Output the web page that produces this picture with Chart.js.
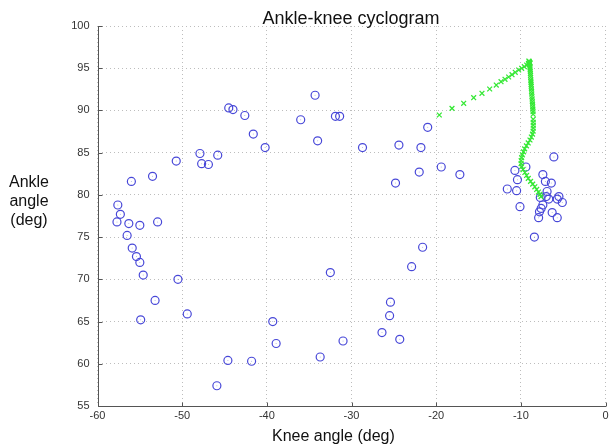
<!DOCTYPE html>
<html>
<head>
<meta charset="utf-8">
<script src="https://cdn.jsdelivr.net/npm/chart.js@4"></script>
<style>
  body { margin: 0; background: #fff; }
  #wrap { position: relative; width: 615px; height: 448px; font-family: "Liberation Sans", Arial, sans-serif; color: #111; }
  .lbl { position: absolute; white-space: nowrap; }
  #title { left: 351px; top: 8px; font-size: 18px; transform: translateX(-50%); }
  #xlab { left: 272px; top: 427px; font-size: 16px; }
  #ylab { left: 0; width: 58px; top: 172px; font-size: 16px; line-height: 19px; text-align: center; }
</style>
</head>
<body>
<div id="wrap">
  <canvas id="c" width="615" height="448"></canvas>
  <div class="lbl" id="title">Ankle-knee cyclogram</div>
  <div class="lbl" id="xlab">Knee angle (deg)</div>
  <div class="lbl" id="ylab">Ankle<br>angle<br>(deg)</div>
</div>
<script>
// blue circles: knee / ankle angle samples
const kneeObs = [-56.0,-53.5,-57.6,-57.3,-57.7,-56.3,-55.0,-52.9,-56.5,-55.9,-55.4,-55.0,-54.6,-50.5,-53.2,-49.4,-54.9,-44.6,-41.8,-45.9,
  -50.7,-47.9,-47.7,-46.9,-45.8,-44.5,-44.0,-42.6,-41.6,-40.2,-36.0,-34.3,-34.0,
  -31.9,-31.4,-28.7,-24.4,-21.8,-21.0,-22.0,-24.8,-19.4,-17.2,
  -21.6,-22.9,-32.5,-25.4,-25.5,-26.4,-24.3,-39.3,-38.9,-31.0,-33.7,
  -10.7,-9.4,-6.1,-10.4,-11.6,-10.5,-7.4,-7.1,-6.4,-6.9,-7.0,-7.7,-6.7,-5.5,-5.7,-5.1,-7.4,-7.6,-7.8,-7.9,-6.3,-5.7,-10.1,-8.4];
const ankleObs = [81.6,82.2,78.8,77.7,76.8,76.6,76.4,76.8,75.2,73.7,72.7,72.0,70.5,70.0,67.5,65.9,65.2,60.4,60.3,57.4,
  84.0,84.9,83.7,83.6,84.7,90.3,90.1,89.4,87.2,85.6,88.9,91.8,86.4,
  89.3,89.3,85.6,85.9,85.6,88.0,82.7,81.4,83.3,82.4,
  73.8,71.5,70.8,67.3,65.7,63.7,62.9,65.0,62.4,62.7,60.8,
  82.9,83.3,84.5,81.8,80.7,80.5,82.4,81.6,81.4,80.4,79.8,79.7,79.5,79.8,79.5,79.1,78.8,78.4,78.0,77.3,77.9,77.3,78.6,75.0];

// green crosses: mean trajectory
const kneeTrack = [-19.63,-18.13,-16.75,-15.57,-14.59,-13.68,-12.90,-12.34,-11.87,-11.44,-11.04,-10.66,-10.25,-9.90,-9.59,-9.31,-9.07,-9.00,
  -9.05,-8.95,-9.10,-8.90,-8.98,-8.93,-8.90,-8.88,-8.87,-8.85,-8.84,-8.82,-8.80,-8.79,-8.77,-8.75,-8.73,-8.71,-8.69,-8.66,-8.64,-8.62,-8.60,-8.58,-8.56,-8.55,
  -8.54,-8.53,-8.53,-8.53,-8.55,-8.62,-8.76,-8.92,-9.13,-9.34,-9.55,-9.68,-9.82,-9.90,-9.96,-9.97,-9.90,-9.74,-9.52,-9.32,-9.12,-8.85,-8.60,-8.35,-8.13,-7.92,-7.74,-7.62];
const ankleTrack = [89.46,90.25,90.85,91.51,92.03,92.54,93.01,93.40,93.69,93.96,94.23,94.52,94.79,94.99,95.18,95.38,95.58,95.77,
  95.85,95.70,95.55,95.60,95.40,95.15,94.90,94.65,94.40,94.15,93.90,93.60,93.35,93.10,92.85,92.55,92.25,91.95,91.65,91.35,91.05,90.75,90.45,90.15,89.85,89.55,
  88.95,88.60,88.25,87.90,87.55,87.20,86.85,86.50,86.15,85.80,85.45,85.10,84.75,84.40,84.05,83.70,83.35,83.00,82.65,82.30,81.95,81.60,81.28,80.96,80.64,80.34,80.06,79.80];

const xTicks = [-60,-50,-40,-30,-20,-10,0];
const yTicks = [55,60,65,70,75,80,85,90,95,100];

const obsPts = kneeObs.map((k, i) => ({x: k, y: ankleObs[i]}));
const trackPts = kneeTrack.map((k, i) => ({x: k, y: ankleTrack[i]}));

// inward tick marks + solid left/bottom axis lines like the matlab axes
const innerTicks = {
  id: 'innerTicks',
  afterDraw(chart) {
    const {ctx, chartArea: a, scales: {x, y}} = chart;
    ctx.save();
    ctx.strokeStyle = '#555';
    ctx.lineWidth = 1;
    ctx.setLineDash([]);
    ctx.beginPath();
    const l = Math.round(a.left) + 0.5, b = Math.round(a.bottom) + 0.5;
    ctx.moveTo(l, Math.round(a.top)); ctx.lineTo(l, b);
    ctx.lineTo(Math.round(a.right), b);
    xTicks.forEach(v => {
      const px = Math.round(x.getPixelForValue(v)) + 0.5;
      ctx.moveTo(px, b); ctx.lineTo(px, b - 4);
    });
    yTicks.forEach(v => {
      const py = Math.round(y.getPixelForValue(v)) + 0.5;
      ctx.moveTo(l, py); ctx.lineTo(l + 4, py);
    });
    ctx.stroke();
    ctx.restore();
  }
};

const tickFont = {family: 'Liberation Sans', size: 11};

new Chart(document.getElementById('c'), {
  type: 'scatter',
  data: {
    datasets: [
      { label: 'track', data: trackPts, pointStyle: 'crossRot', radius: 3.4, borderColor: '#35e835', borderWidth: 1.3, order: 0 },
      { label: 'obs', data: obsPts, pointStyle: 'circle', radius: 4, backgroundColor: 'rgba(0,0,0,0)', borderColor: '#4848d8', borderWidth: 1.2, order: 1 },
      { label: 'obsCentre', data: obsPts, pointStyle: 'circle', radius: 0.5, backgroundColor: 'rgba(90,90,210,0.5)', borderWidth: 0, order: 2 }
    ]
  },
  options: {
    responsive: false,
    animation: false,
    layout: { padding: { left: 0, right: 9.5, top: 26, bottom: 0 } },
    plugins: { legend: { display: false }, tooltip: { enabled: false } },
    scales: {
      x: {
        min: -60, max: 0,
        afterFit: s => { s.height = 42; },
        afterBuildTicks: s => { s.ticks = xTicks.map(v => ({value: v})); },
        ticks: { font: tickFont, color: '#333', padding: 3, maxRotation: 0 },
        grid: { color: '#bdbdbd', drawTicks: false },
        border: { display: false, dash: [1, 3] }
      },
      y: {
        min: 55, max: 100,
        afterFit: s => { s.width = 97.5; },
        afterBuildTicks: s => { s.ticks = yTicks.map(v => ({value: v})); },
        ticks: { font: tickFont, color: '#333', padding: 8 },
        grid: { color: '#bdbdbd', drawTicks: false },
        border: { display: false, dash: [1, 3] }
      }
    }
  },
  plugins: [innerTicks]
});
</script>
</body>
</html>
